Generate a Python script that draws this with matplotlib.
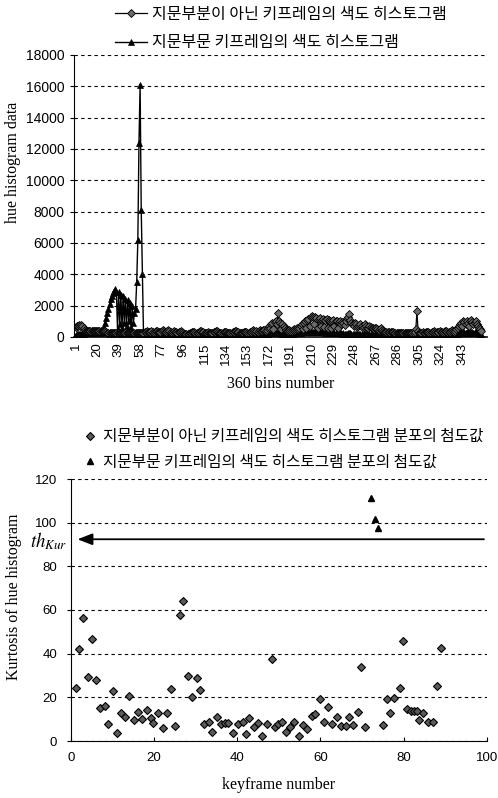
import matplotlib
matplotlib.use("Agg")
import matplotlib.pyplot as plt

plt.rcParams['mathtext.fontset'] = 'stix'

# ---- top chart: 360-bin hue histograms ----
hist_normal = [
    650, 720, 700, 760, 680, 740, 690, 600, 420, 380, 400, 390, 410, 380, 400, 390, 410, 400, 380, 400,
    390, 410, 400, 380, 400, 390, 380, 300, 280, 260, 250, 240, 260, 250, 240, 230, 250, 240, 260, 250,
    240, 250, 230, 260, 240, 250, 230, 240, 260, 250, 240, 230, 250, 240, 260, 250, 240, 230, 250, 240,
    250, 300, 350, 380, 320, 300, 330, 360, 300, 280, 320, 380, 400, 350, 300, 330, 380, 420, 360, 300,
    320, 380, 420, 360, 300, 280, 330, 380, 350, 300, 270, 300, 350, 380, 330, 280, 200, 180, 200, 220,
    200, 230, 260, 300, 320, 300, 270, 250, 280, 320, 380, 400, 350, 300, 260, 240, 260, 300, 280, 250,
    240, 260, 300, 350, 400, 380, 320, 280, 260, 250, 270, 300, 330, 300, 270, 250, 240, 260, 280, 300,
    350, 400, 380, 330, 300, 280, 260, 250, 270, 300, 320, 300, 280, 260, 300, 350, 400, 420, 380, 350,
    380, 350, 400, 420, 380, 400, 450, 420, 400, 450, 550, 700, 600, 850, 900, 500, 950, 1000, 800, 1500,
    1000, 900, 500, 800, 700, 600, 450, 400, 380, 420, 400, 380, 450, 500, 420, 480, 550, 500, 600, 700,
    800, 500, 900, 1000, 600, 1100, 1150, 700, 1250, 1350, 1300, 800, 1250, 1200, 600, 1150, 1200, 700, 1100, 1150,
    650, 1100, 1150, 600, 1100, 1050, 600, 1000, 1100, 700, 1050, 1000, 600, 950, 1000, 800, 950, 900, 750, 1000,
    1200, 1300, 1450, 1100, 900, 800, 700, 900, 800, 650, 700, 750, 850, 700, 600, 650, 800, 700, 600, 550,
    700, 650, 600, 550, 500, 600, 550, 500, 450, 500, 550, 450, 400, 350, 300, 320, 350, 300, 280, 300,
    320, 300, 280, 260, 250, 240, 260, 250, 240, 230, 250, 240, 260, 280, 260, 250, 240, 230, 250, 280,
    300, 500, 1650, 400, 250, 240, 260, 300, 280, 250, 300, 350, 300, 280, 260, 300, 350, 380, 300, 280,
    300, 350, 400, 350, 300, 280, 320, 380, 400, 350, 300, 320, 380, 420, 380, 350, 400, 500, 600, 700,
    800, 900, 700, 1000, 950, 800, 1050, 900, 700, 1000, 1100, 950, 800, 900, 1000, 850, 700, 600, 500, 400,
]
hist_finger = [
    150, 200, 180, 220, 200, 180, 200, 220, 250, 300, 280, 260, 300, 320, 280, 300, 320, 300, 280, 300,
    300, 320, 280, 300, 350, 600, 900, 1200, 1500, 1800, 2100, 2400, 2600, 2800, 2950, 3050, 2900, 500, 2850, 800,
    2700, 600, 2600, 900, 2450, 700, 2350, 1000, 2150, 600, 2000, 900, 1500, 1800, 3500, 6200, 12400, 16100, 8100, 4000,
    250, 150, 120, 100, 150, 180, 200, 150, 120, 180, 200, 150, 130, 170, 200, 180, 150, 120, 160, 200,
    180, 150, 130, 160, 190, 170, 140, 120, 150, 180, 160, 130, 120, 150, 170, 150, 120, 110, 130, 150,
    140, 120, 130, 150, 160, 140, 120, 130, 150, 170, 150, 130, 120, 140, 160, 150, 130, 120, 140, 150,
    140, 130, 150, 160, 140, 120, 130, 150, 160, 140, 130, 120, 140, 150, 160, 140, 120, 130, 150, 140,
    130, 150, 160, 140, 120, 130, 150, 170, 150, 130, 120, 140, 160, 150, 130, 140, 150, 160, 140, 130,
    150, 160, 170, 180, 160, 150, 170, 190, 180, 200, 220, 250, 230, 260, 280, 250, 240, 260, 250, 300,
    260, 240, 220, 230, 210, 200, 190, 180, 170, 180, 190, 200, 210, 220, 230, 240, 250, 260, 270, 280,
    290, 300, 310, 300, 320, 330, 320, 310, 330, 340, 330, 320, 310, 300, 310, 320, 310, 300, 290, 300,
    290, 280, 290, 300, 280, 270, 260, 270, 280, 260, 250, 240, 250, 260, 240, 230, 220, 230, 220, 210,
    220, 230, 240, 230, 220, 210, 200, 210, 200, 190, 200, 210, 200, 190, 180, 190, 180, 170, 180, 170,
    160, 170, 160, 150, 160, 150, 140, 150, 140, 130, 140, 130, 120, 130, 120, 110, 120, 110, 120, 110,
    120, 110, 100, 110, 100, 110, 120, 110, 100, 110, 120, 110, 100, 110, 120, 110, 100, 110, 120, 130,
    140, 150, 160, 150, 140, 130, 120, 130, 140, 130, 120, 130, 140, 150, 140, 130, 140, 150, 160, 150,
    160, 170, 180, 170, 160, 150, 160, 170, 180, 170, 160, 170, 180, 190, 180, 170, 180, 200, 220, 250,
    280, 300, 280, 320, 300, 280, 320, 300, 280, 300, 320, 300, 280, 300, 320, 300, 260, 240, 220, 200,
]
bins = list(range(1, len(hist_normal) + 1))
bin_ticks = list(range(1, 344, 19))
hist_yticks = list(range(0, 18001, 2000))

# ---- bottom chart: kurtosis per keyframe ----
kf_normal = [1.1, 1.9, 3.0, 4.2, 5.1, 6.1, 7.0, 8.2, 8.8, 10.0, 11.0, 12.1, 13.0, 14.0, 15.1,
             16.2, 17.1, 18.2, 19.2, 19.8, 21.0, 22.1, 23.2, 24.1, 25.1, 26.2, 26.9, 28.1, 29.2, 30.2,
             31.1, 32.1, 33.2, 34.0, 35.1, 36.0, 37.1, 37.8, 39.0, 40.2, 41.3, 42.1, 42.9, 44.1, 44.9,
             46.0, 47.1, 48.3, 49.1, 49.9, 50.7, 51.7, 52.7, 53.7, 54.9, 55.7, 56.7, 57.9, 58.7, 59.9,
             60.9, 61.9, 62.7, 63.9, 64.9, 66.1, 66.9, 67.9, 69.0, 69.8, 70.7, 75.0, 75.9, 76.7, 77.8,
             79.1, 79.9, 80.8, 81.7, 82.5, 83.3, 83.8, 84.7, 85.8, 87.0, 88.0, 88.9]
kurt_normal = [24.4, 42.0, 56.2, 29.5, 46.6, 27.9, 15.0, 16.0, 7.6, 22.9, 3.5, 12.7, 10.8, 20.8, 9.6,
               13.4, 9.9, 14.2, 10.4, 8.1, 13.0, 6.1, 12.7, 23.8, 7.0, 57.7, 64.3, 29.9, 20.3, 29.0,
               23.4, 7.6, 8.8, 4.3, 11.1, 7.8, 8.1, 8.1, 3.8, 7.6, 8.8, 3.1, 10.7, 6.6, 8.4,
               2.3, 7.8, 37.6, 6.6, 7.6, 8.8, 4.0, 6.6, 8.8, 2.4, 7.3, 5.5, 11.5, 12.2, 19.2,
               8.8, 15.4, 7.8, 10.8, 6.9, 6.9, 11.1, 7.2, 13.4, 34.0, 6.6, 7.2, 19.2, 12.7, 19.8,
               24.4, 45.8, 14.5, 13.9, 13.9, 13.9, 9.6, 12.7, 8.8, 8.8, 25.2, 42.5]
kf_finger = [72.2, 73.1, 73.9]
kurt_finger = [111.5, 101.7, 97.4]
th_kur = 92.4

label_normal = "지문부분이 아닌 키프레임의 색도 히스토그램"
label_finger = "지문부문 키프레임의 색도 히스토그램"
label_normal2 = "지문부분이 아닌 키프레임의 색도 히스토그램 분포의 첨도값"
label_finger2 = "지문부문 키프레임의 색도 히스토그램 분포의 첨도값"

kr_font = {'family': ['Noto Sans CJK KR', 'DejaVu Sans']}
tick_font = 'Liberation Sans'
serif_font = 'Liberation Serif'

fig = plt.figure(figsize=(4.98, 7.98), dpi=100)

# top axes
ax1 = fig.add_axes([74/498, 1-337/798, 413/498, 282/798])
lf, = ax1.plot(bins, hist_finger, color='black', lw=1.0, marker='^', ms=5,
               mfc='black', mec='black', mew=0.5)
ln, = ax1.plot(bins, hist_normal, color='black', lw=0.9, marker='D', ms=4,
               mfc='#6a6a6a', mec='black', mew=0.6)
ax1.set_xlim(-0.5, 365)
ax1.set_ylim(0, 18000)
ax1.set_yticks(hist_yticks)
ax1.set_xticks(bin_ticks)
ax1.set_xticklabels([str(b) for b in bin_ticks], rotation=90, fontfamily=tick_font, fontsize=9.5)
for t in ax1.get_yticklabels():
    t.set_fontfamily(tick_font)
    t.set_fontsize(10)
ax1.tick_params(axis='x', length=0, pad=4)
ax1.tick_params(axis='y', length=3, pad=4)
ax1.yaxis.grid(True, color='black', linestyle=(0, (3, 3)), lw=0.8)
ax1.set_axisbelow(True)
for s in ['top', 'right']:
    ax1.spines[s].set_visible(False)
ax1.spines['bottom'].set_linewidth(1.2)
ax1.set_xlabel('360 bins number', fontfamily=serif_font, fontsize=11.5, labelpad=8)
ax1.set_ylabel('hue histogram data', fontfamily=serif_font, fontsize=11.5)
ax1.yaxis.set_label_coords(-0.128, 0.62)

fig.legend([ln, lf], [label_normal, label_finger], loc='upper left',
           bbox_to_anchor=(115/498, 1-6/798), frameon=False, prop=dict(size=11.5, **kr_font),
           handlelength=2.0, handletextpad=0.3, labelspacing=0.7, borderpad=0, borderaxespad=0)

# bottom axes
ax2 = fig.add_axes([71/498, 1-741/798, 415.7/498, 262/798])
dn, = ax2.plot(kf_normal, kurt_normal, linestyle='none', marker='D', ms=3.6,
               mfc='#5a5a5a', mec='black', mew=0.8)
df, = ax2.plot(kf_finger, kurt_finger, linestyle='none', marker='^', ms=5,
               mfc='black', mec='black')
ax2.annotate('', xy=(0.9, th_kur), xytext=(100, th_kur),
             arrowprops=dict(arrowstyle='-|>,head_length=0.9,head_width=0.35', color='black', lw=1.3))
ax2.text(-0.8, 88.6, r'$th_{Kur}$', ha='right', va='baseline', fontsize=13.5, clip_on=False)
ax2.set_xlim(0, 100)
ax2.set_ylim(0, 120)
ax2.set_xticks(range(0, 101, 20))
ax2.set_yticks(range(0, 121, 20))
for t in ax2.get_xticklabels() + ax2.get_yticklabels():
    t.set_fontfamily(tick_font)
    t.set_fontsize(9.5)
ax2.tick_params(axis='x', direction='in', length=3, pad=8)
ax2.tick_params(axis='y', length=3, pad=7)
ax2.yaxis.grid(True, color='black', linestyle=(0, (3, 3)), lw=0.8)
ax2.set_axisbelow(True)
for s in ['top', 'right']:
    ax2.spines[s].set_visible(False)
ax2.set_xlabel('keyframe number', fontfamily=serif_font, fontsize=11.5, labelpad=9)
ax2.set_ylabel('Kurtosis of hue histogram', fontfamily=serif_font, fontsize=11.5)
ax2.yaxis.set_label_coords(-0.118, 0.55)

fig.legend([dn, df], [label_normal2, label_finger2], loc='upper left',
           bbox_to_anchor=(84/498, 1-428/798), frameon=False, prop=dict(size=11.3, **kr_font),
           handlelength=0.8, handletextpad=0.4, labelspacing=0.55, borderpad=0, borderaxespad=0)

fig.savefig('out.png', dpi=100)
